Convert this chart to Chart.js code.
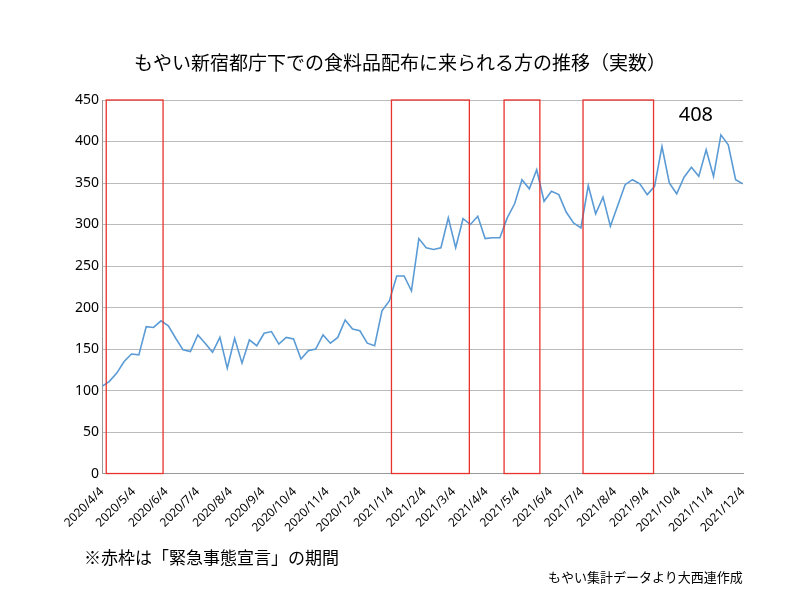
<!DOCTYPE html>
<html><head><meta charset="utf-8">
<script src="https://cdn.jsdelivr.net/npm/chart.js@4"></script>
<style>body{margin:0;background:#fff}#w{position:relative;width:800px;height:600px}
.t{position:absolute;font-family:"Noto Sans CJK JP";color:#000}</style></head>
<body><div id="w"><canvas id="c" width="800" height="600"></canvas>
<div class="t" style="left:0;width:800px;top:48px;text-align:center;font-size:19px">もやい新宿都庁下での食料品配布に来られる方の推移（実数）</div>
<div class="t" style="left:84px;top:544px;font-size:17px">※赤枠は「緊急事態宣言」の期間</div>
<div class="t" style="left:548px;top:567px;font-size:13px">もやい集計データより大西連作成</div>
</div>
<script>
const startDate = "2020-04-04";
const weeklyValues = [105,111,121,135,144,143,177,176,184,178,163,149,147,167,157,146,164,127,163,133,161,154,169,171,156,164,162,138,148,150,167,157,164,185,174,172,157,154,
196,208,238,238,220,283,272,270,272,308,272,307,300,310,283,284,284,308,325,354,343,366,328,340,336,315,302,296,347,313,333,298,323,348,354,349,336,346,394,350,337,357,369,358,390,358,408,396,354,349];
const monthLabels = ["2020/4/4","2020/5/4","2020/6/4","2020/7/4","2020/8/4","2020/9/4","2020/10/4","2020/11/4","2020/12/4","2021/1/4","2021/2/4","2021/3/4","2021/4/4","2021/5/4","2021/6/4","2021/7/4","2021/8/4","2021/9/4","2021/10/4","2021/11/4","2021/12/4"];
const emergencyPeriods = [["2020/4/8","2020/6/1"],["2021/1/4","2021/3/19"],["2021/4/21","2021/5/25"],["2021/7/5","2021/9/10"]];
const peakLabel = "408";

const base = new Date(startDate+"T00:00:00Z");
const dayOf = s => { const [y,m,d]=s.split("/").map(Number); return Math.round((Date.UTC(y,m-1,d)-base)/864e5); };
const pts = weeklyValues.map((v,i)=>({x:i*7,y:v}));
const tickDays = monthLabels.map(dayOf);

const boxes = {id:'boxes',afterDatasetsDraw(ch){
  const {ctx,scales:{x,y}}=ch; ctx.save(); ctx.strokeStyle='#e8322c'; ctx.lineWidth=1.3;
  emergencyPeriods.forEach(([a,b])=>{const x1=x.getPixelForValue(dayOf(a)),x2=x.getPixelForValue(dayOf(b));
    const y1=y.getPixelForValue(450),y2=y.getPixelForValue(0); ctx.strokeRect(x1,y1,x2-x1,y2-y1);});
  const i=weeklyValues.indexOf(Math.max(...weeklyValues));
  ctx.fillStyle='#000'; ctx.font='20px "Noto Sans"'; ctx.textAlign='center';
  ctx.fillText(peakLabel,x.getPixelForValue(i*7)-25,y.getPixelForValue(450)+21);
  ctx.restore();}};

new Chart(document.getElementById('c'),{type:'line',
 data:{datasets:[{data:pts,borderColor:'#5b9bd5',borderWidth:1.6,pointRadius:0,tension:0}]},
 options:{responsive:false,animation:false,
  layout:{padding:{left:72,right:57,top:100,bottom:62}},
  plugins:{legend:{display:false},tooltip:{enabled:false}},
  scales:{
   x:{type:'linear',min:0,max:pts[pts.length-1].x,
     afterBuildTicks:s=>{s.ticks=tickDays.map(v=>({value:v}));},
     ticks:{autoSkip:false,maxRotation:45,minRotation:45,color:'#000',font:{family:'Noto Sans',size:12},
       callback:(v)=>monthLabels[tickDays.indexOf(v)]},
     grid:{display:false},border:{color:'#999'}},
   y:{min:0,max:450,ticks:{stepSize:50,color:'#000',font:{family:'Noto Sans',size:14}},
     grid:{color:'#bbb',drawTicks:false},border:{color:'#999',display:true}}
  }},plugins:[boxes]});
</script></body></html>
